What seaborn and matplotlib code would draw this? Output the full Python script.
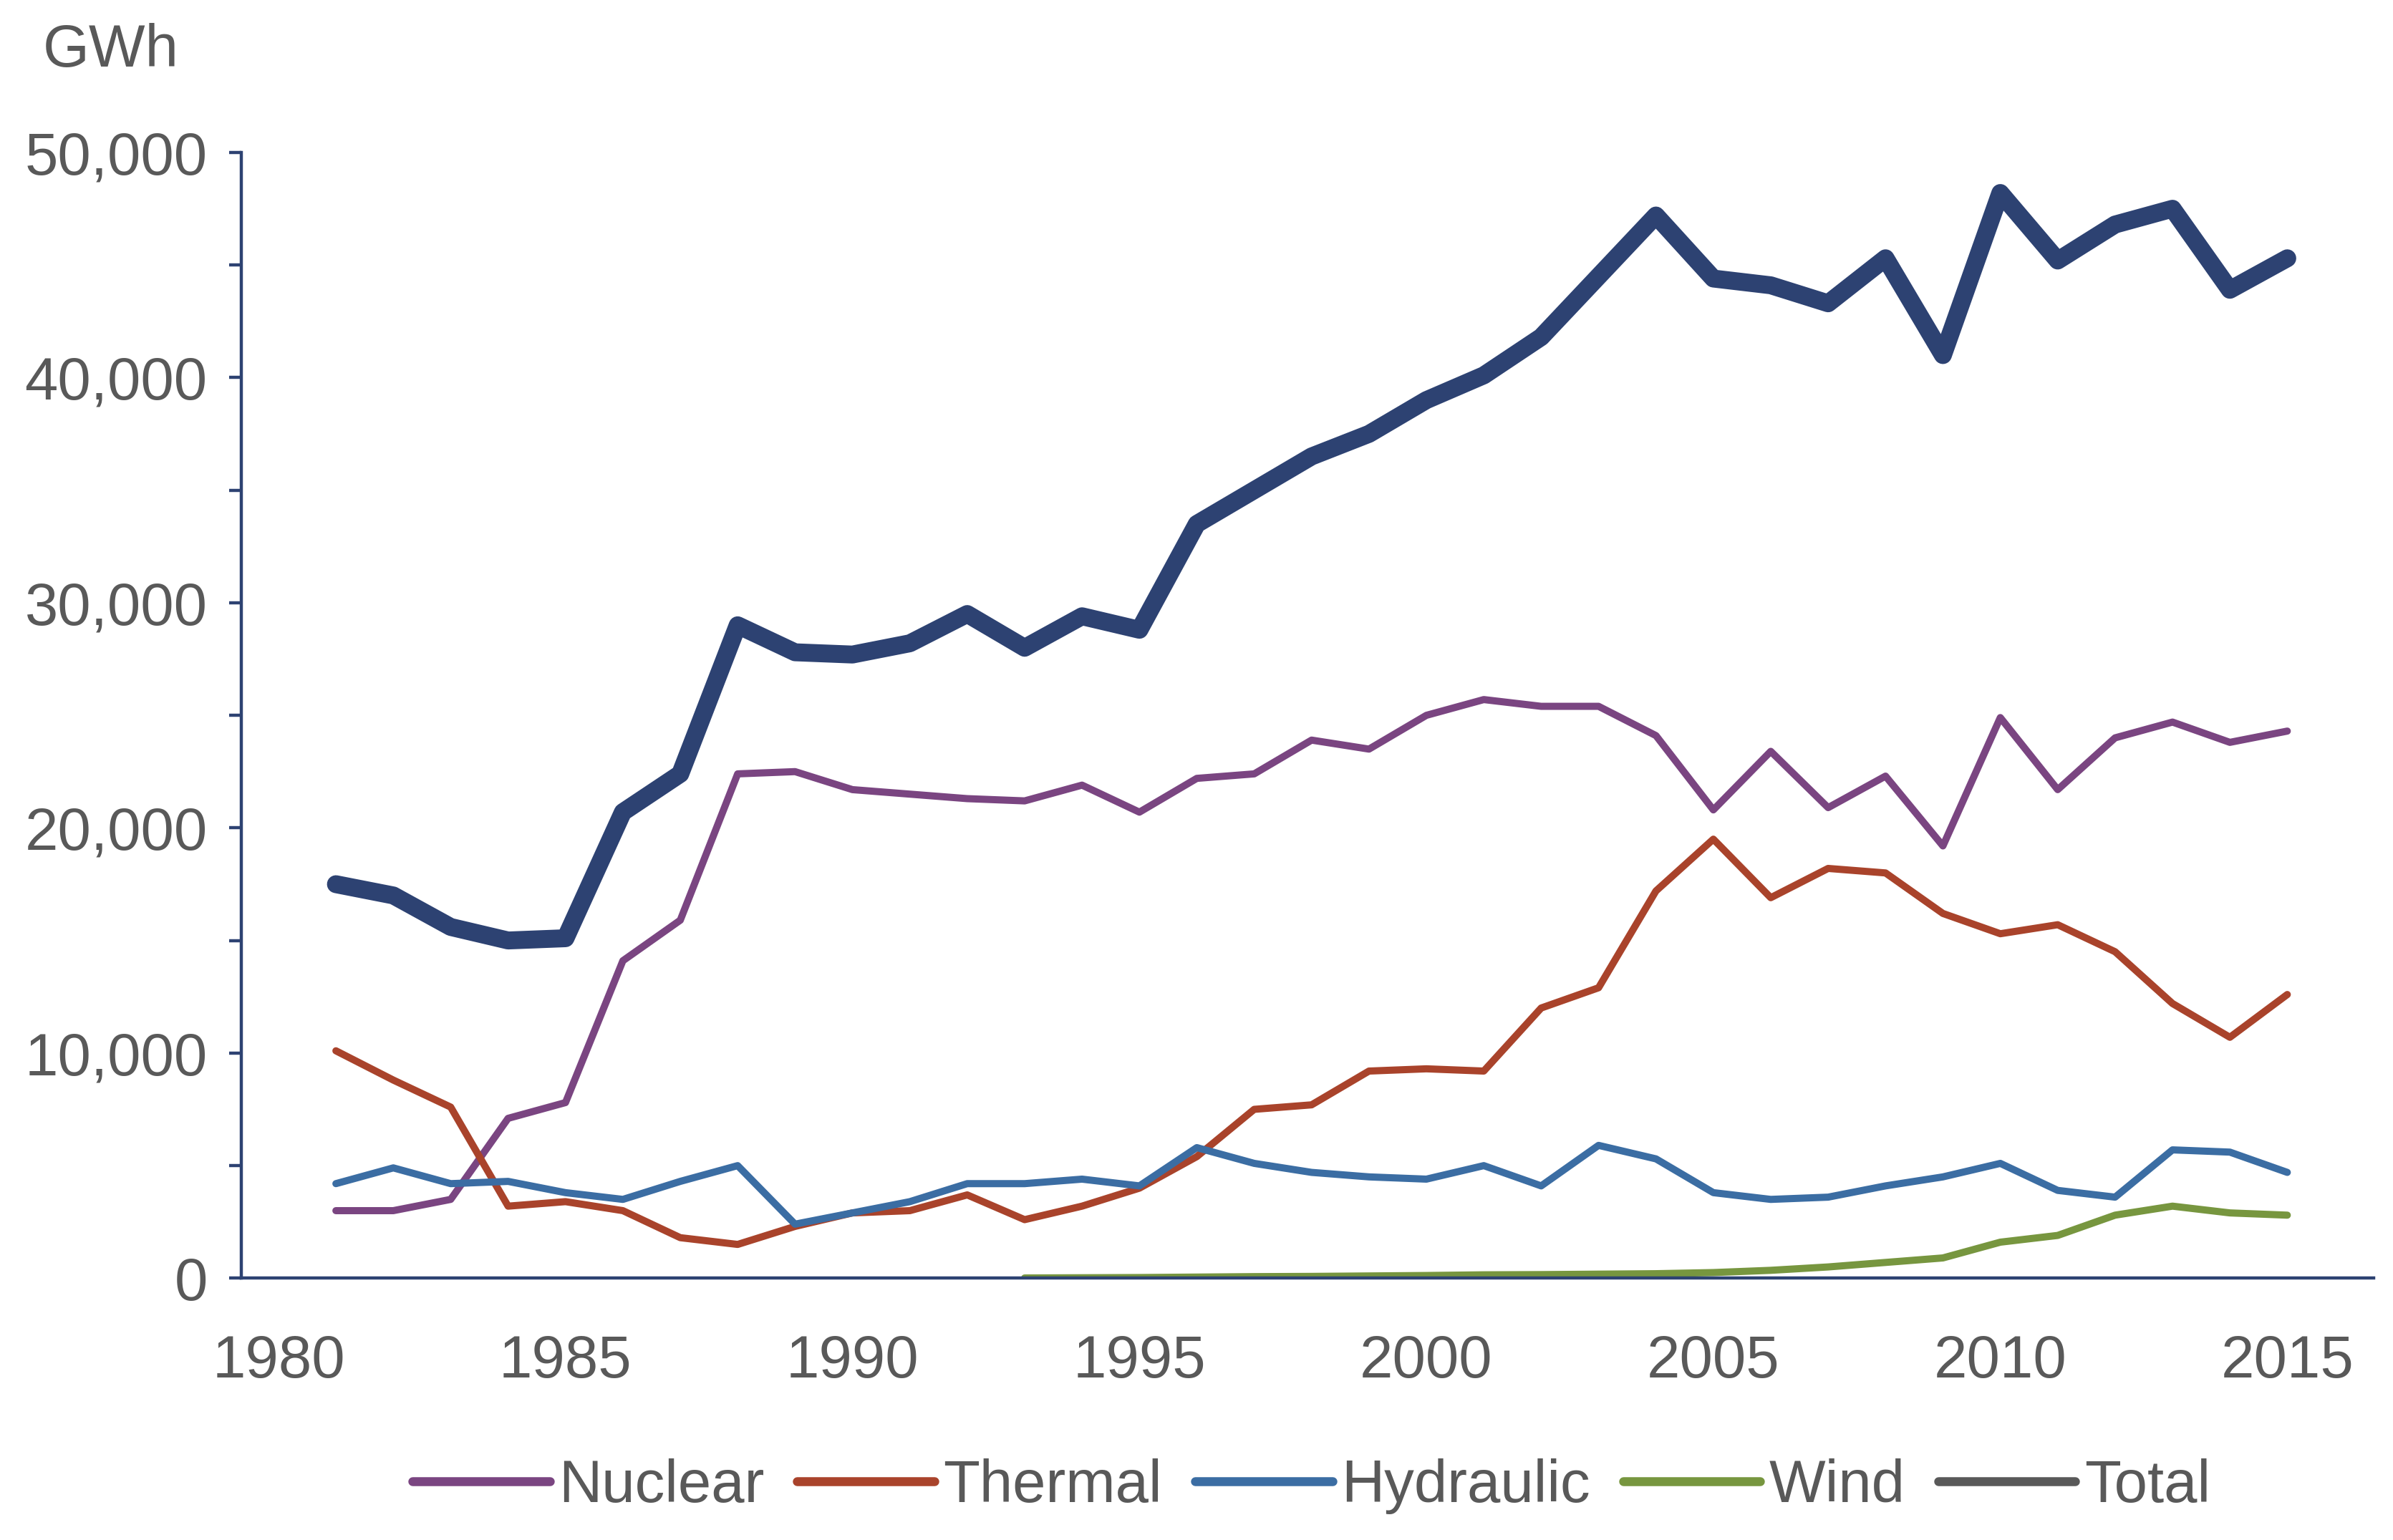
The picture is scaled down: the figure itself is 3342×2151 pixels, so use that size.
import pandas as pd
import numpy as np
import matplotlib.pyplot as plt
import seaborn as sns
from matplotlib.ticker import FuncFormatter, MultipleLocator
from matplotlib.lines import Line2D

years = list(range(1981, 2016))
nuclear = [3000, 3000, 3500, 7100, 7800, 14100, 15900, 22400, 22500, 21700,
           21500, 21300, 21200, 21900, 20700, 22200, 22400, 23900, 23500, 25000,
           25700, 25400, 25400, 24100, 20800, 23400, 20900, 22300, 19200, 24900,
           21700, 24000, 24700, 23800, 24300]
thermal = [10100, 8800, 7600, 3200, 3400, 3000, 1800, 1500, 2300, 2900,
           3000, 3700, 2600, 3200, 4000, 5400, 7500, 7700, 9200, 9300,
           9200, 12000, 12900, 17200, 19500, 16900, 18200, 18000, 16200, 15300,
           15700, 14500, 12200, 10700, 12600]
hydraulic = [4200, 4900, 4200, 4300, 3800, 3500, 4300, 5000, 2400, 2900,
             3400, 4200, 4200, 4400, 4100, 5800, 5100, 4700, 4500, 4400,
             5000, 4100, 5900, 5300, 3800, 3500, 3600, 4100, 4500, 5100,
             3900, 3600, 5700, 5600, 4700]
wind_years = list(range(1993, 2016))
wind = [10, 20, 30, 50, 70, 80, 100, 120, 150, 160, 180, 200,
        250, 350, 500, 700, 900, 1600, 1900, 2800, 3200, 2900, 2800]
total = [17500, 17000, 15600, 15000, 15100, 20700, 22400, 29000, 27800, 27700,
         28200, 29500, 28000, 29400, 28800, 33500, 35000, 36500, 37500, 39000,
         40100, 41800, 44500, 47200, 44400, 44100, 43300, 45300, 41000, 48200,
         45200, 46800, 47500, 43900, 45300]

colors = {
    "Nuclear": "#7A4581",
    "Thermal": "#A9432B",
    "Hydraulic": "#3B6DA3",
    "Wind": "#77963F",
    "Total": "#2D4272",
}
text_color = "#595959"
axis_color = "#2D4272"

sns.set_theme(style="white")
plt.rcParams['font.family'] = ['Liberation Sans', 'DejaVu Sans']

fig = plt.figure(figsize=(16.71, 10.755), dpi=200)
ax = fig.add_axes([0.1008, 0.170, 0.891, 0.731])

series = [
    ("Nuclear", years, nuclear, 3.6),
    ("Thermal", years, thermal, 3.6),
    ("Hydraulic", years, hydraulic, 3.6),
    ("Wind", wind_years, wind, 3.6),
    ("Total", years, total, 9.0),
]
for name, xs, ys, lw in series:
    sns.lineplot(x=xs, y=ys, ax=ax, color=colors[name], linewidth=lw, legend=False)

ax.set_xlim(1979.35, 2016.5)
ax.set_ylim(0, 50000)
ax.xaxis.set_major_locator(MultipleLocator(5))
ax.yaxis.set_major_locator(MultipleLocator(10000))
ax.yaxis.set_minor_locator(MultipleLocator(5000))
ax.yaxis.set_major_formatter(FuncFormatter(lambda v, p: f"{v:,.0f}"))

for s in ["top", "right"]:
    ax.spines[s].set_visible(False)
for s in ["left", "bottom"]:
    ax.spines[s].set_color(axis_color)
    ax.spines[s].set_linewidth(1.6)

ax.tick_params(axis="y", which="both", left=True, direction="out", length=6,
               width=1.6, color=axis_color, labelsize=30, labelcolor=text_color, pad=11)
ax.tick_params(axis="x", which="both", bottom=False, labelsize=30,
               labelcolor=text_color, pad=22)

fig.text(0.018, 0.967, "GWh", fontsize=30, color=text_color, va="center", ha="left")

handles = [Line2D([0], [0], color=colors[n], linewidth=4.5) for n in ["Nuclear", "Thermal", "Hydraulic", "Wind"]]
handles.append(Line2D([0], [0], color="#595959", linewidth=4.5))
fig.legend(handles, ["Nuclear", "Thermal", "Hydraulic", "Wind", "Total"],
           loc="center", bbox_to_anchor=(0.548, 0.035), ncol=5, frameon=False,
           fontsize=30, labelcolor=text_color, handlelength=2.3,
           handletextpad=0.15, columnspacing=0.55)

fig.savefig("out.png", dpi=200, facecolor="white")
